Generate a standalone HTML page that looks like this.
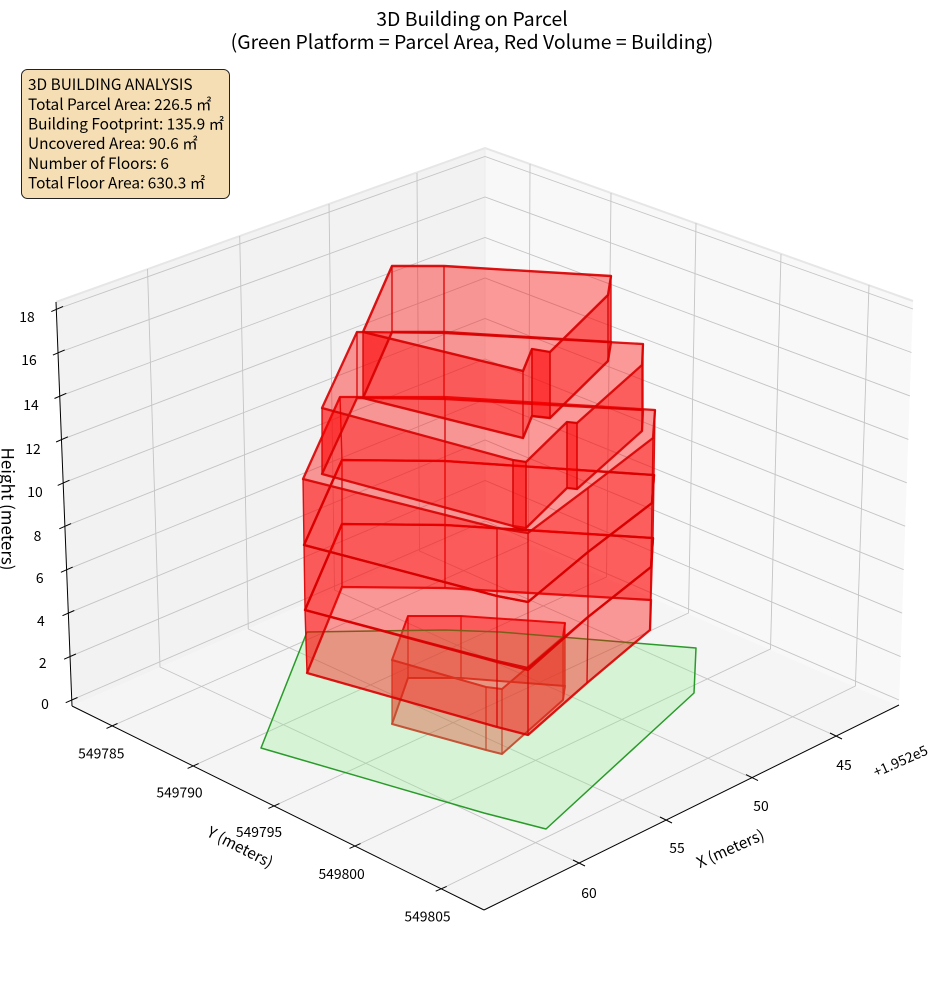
<!DOCTYPE html>
<html><head><meta charset="utf-8"><style>
html,body{margin:0;padding:0;background:#fff;}
svg{display:block;}
text{font-family:"Liberation Sans","Noto Sans CJK JP",sans-serif;fill:#000;}
.t{font-family:"Noto Sans CJK JP","Liberation Sans",sans-serif;}
</style></head><body>
<svg width="944" height="992" viewBox="0 0 944 992" xmlns="http://www.w3.org/2000/svg">
<rect width="944" height="992" fill="#fff"/>
<!-- panes -->
<polygon points="56,302 72,706 485,525 485,148" fill="#f2f2f2"/>
<polygon points="485,148 485,525 899,706 913,301" fill="#f8f8f8"/>
<polygon points="72,706 485,525 899,706 484,910" fill="#f5f5f5"/>
<polyline points="56,302 485,148 913,301" fill="none" stroke="#e6e6e6" stroke-width="2"/>
<line x1="485" y1="148" x2="485" y2="525" stroke="#ececec" stroke-width="1"/>
<!-- grid -->
<g stroke="#c4c4c4" stroke-width="0.9" fill="none">
<polyline points="71.6,700 485,521 899,700"/>
<polyline points="70,656.6 485,480.5 900.6,656.6"/>
<polyline points="68.4,613.1 485,440 902.1,613.1"/>
<polyline points="66.8,569.7 485,399.5 903.7,569.7"/>
<polyline points="65.2,526.2 485,359 905.2,526.2"/>
<polyline points="63.6,482.8 485,318.5 906.8,482.8"/>
<polyline points="62,439.4 485,278 908.4,439.4"/>
<polyline points="60.4,395.9 485,237.5 909.9,395.9"/>
<polyline points="58.8,352.5 485,197 911.5,352.5"/>
<polyline points="57.2,309 485,156.5 913,309"/>
<polyline points="147.5,269 160,667 579,863"/>
<polyline points="239.7,236 248.3,629 666,820"/>
<polyline points="329,204 334.5,590 752,778"/>
<polyline points="417,173 419.5,551 836,736"/>
<polyline points="530,164 528.4,542 112,726"/>
<polyline points="611,193 606.5,577 193,766"/>
<polyline points="696,223 688.5,613 274,806"/>
<polyline points="781,254 770.5,649 355,846"/>
<polyline points="869,285 855.4,686 441,889"/>
</g>
<!-- axes -->
<g stroke="#000" stroke-width="1" fill="none">
<line x1="56" y1="302" x2="72" y2="706"/>
<line x1="72" y1="706" x2="484" y2="910"/>
<line x1="484" y1="910" x2="899" y2="705"/>
<line x1="77.5" y1="697.5" x2="65.7" y2="702.7"/>
<line x1="75.9" y1="654.0" x2="64.1" y2="659.2"/>
<line x1="74.3" y1="610.5" x2="62.5" y2="615.7"/>
<line x1="72.7" y1="567.1" x2="60.9" y2="572.3"/>
<line x1="71.1" y1="523.6" x2="59.3" y2="528.8"/>
<line x1="69.5" y1="480.2" x2="57.7" y2="485.4"/>
<line x1="67.9" y1="436.8" x2="56.1" y2="442.0"/>
<line x1="66.3" y1="393.3" x2="54.5" y2="398.5"/>
<line x1="64.7" y1="349.9" x2="52.9" y2="355.1"/>
<line x1="63.1" y1="306.4" x2="51.3" y2="311.6"/>
<line x1="830" y1="733" x2="842" y2="739"/>
<line x1="746" y1="774.6" x2="758" y2="780.6"/>
<line x1="660" y1="817" x2="672" y2="823"/>
<line x1="573" y1="860" x2="585" y2="866"/>
<line x1="106.5" y1="728.4" x2="117.5" y2="723.5"/>
<line x1="187.6" y1="768.4" x2="198.6" y2="763.6"/>
<line x1="268.4" y1="808.4" x2="279.4" y2="803.6"/>
<line x1="349.5" y1="848.4" x2="360.5" y2="843.6"/>
<line x1="435.7" y1="891.2" x2="446.7" y2="886.4"/>
</g>
<!-- tick labels -->
<g class="t" font-size="13.9" text-anchor="middle">
<text class="t" x="45" y="709">0</text>
<text class="t" x="42.7" y="668">2</text>
<text class="t" x="40.8" y="626">4</text>
<text class="t" x="39.7" y="583">6</text>
<text class="t" x="37.5" y="541">8</text>
<text class="t" x="35" y="497">10</text>
<text class="t" x="33" y="454">12</text>
<text class="t" x="31" y="410">14</text>
<text class="t" x="29" y="365">16</text>
<text class="t" x="27" y="322">18</text>
<text class="t" x="844" y="770">45</text>
<text class="t" x="761" y="811">50</text>
<text class="t" x="677" y="853">55</text>
<text class="t" x="589" y="898">60</text>
<text class="t" x="101.3" y="758.5">549785</text>
<text class="t" x="179.5" y="797.5">549790</text>
<text class="t" x="259" y="837">549795</text>
<text class="t" x="341.6" y="879">549800</text>
<text class="t" x="427.5" y="921.5">549805</text>
</g>
<text class="t" font-size="13.9" text-anchor="middle" transform="translate(900.5,761) rotate(-24)" dy="5">+1.952e5</text>
<!-- axis labels -->
<text class="t" font-size="17" text-anchor="middle" transform="translate(1.5,509) rotate(90)">Height (meters)</text>
<text class="t" font-size="15.3" text-anchor="middle" transform="translate(240,847.5) rotate(27)" dy="5">Y (meters)</text>
<text class="t" font-size="15.3" text-anchor="middle" transform="translate(730.5,849) rotate(-24)" dy="5">X (meters)</text>

<!-- floor 1 walls -->
<g fill="rgba(255,0,0,0.39)" stroke="none">
<polygon points="408,616 461,616 461,678 408,678"/>
<polygon points="461,616 565,623 565,686 461,678"/>
<polygon points="565,623 563,637 563,700 565,686"/>
<polygon points="563,637 502,689 502,754 563,700"/>
<polygon points="502,689 486,687 486,750 502,754"/>
<polygon points="486,687 392,660 392,724 486,750"/>
<polygon points="392,660 408,616 408,678 392,724"/>
</g>
<g fill="none" stroke="#d80000" stroke-opacity="0.9" stroke-linejoin="round">
<path stroke-width="2" d="M408,616 L461,616 L565,623 L563,637 L502,689 L486,687 L392,660 Z M408,678 L461,678 L565,686 L563,700 L502,754 L486,750 L392,724 Z"/>
<path stroke-width="1.3" d="M408,616V678 M461,616V678 M565,623V686 M563,637V700 M502,689V754 M486,687V750 M392,660V724"/>
</g>

<!-- parcel -->
<polygon points="307,632 445,630 500,632 696,648 694,693 546,829 484,813 261,748" fill="rgba(144,238,144,0.3)" stroke="#2a9a2a" stroke-width="1.5" stroke-linejoin="round"/>

<!-- floor 2 walls -->
<g fill="rgba(255,0,0,0.39)" stroke="none">
<polygon points="342,524 445,525 445,588 342,587"/>
<polygon points="445,525 653,538 651,600 445,588"/>
<polygon points="653,538 651,567 650,630 651,600"/>
<polygon points="651,567 588,617 587,683 650,630"/>
<polygon points="588,617 528,670 528,735 587,683"/>
<polygon points="528,670 497,662 497,727 528,735"/>
<polygon points="497,662 305,610 307,673 497,727"/>
<polygon points="305,610 342,524 342,587 307,673"/>
</g>
<g fill="none" stroke="#d80000" stroke-opacity="0.9" stroke-linejoin="round">
<path stroke-width="2.3" d="M342,524 L445,525 L653,538 L651,567 L588,617 L528,670 L497,662 L305,610 Z M342,587 L445,588 L651,600 L650,630 L587,683 L528,735 L497,727 L307,673 Z"/>
<path stroke-width="1.4" d="M342,524 L342,587 M445,525 L445,588 M653,538 L651,600 M651,567 L650,630 M588,617 L587,683 M528,670 L528,735 M497,662 L497,727 M305,610 L307,673"/>
</g>

<!-- floor 3 walls -->
<g fill="rgba(255,0,0,0.39)" stroke="none">
<polygon points="342,460 445,461 445,525 342,524"/>
<polygon points="445,461 654,475 653,538 445,525"/>
<polygon points="654,475 652,503 651,567 653,538"/>
<polygon points="652,503 588,552 588,617 651,567"/>
<polygon points="588,552 528,602 528,668 588,617"/>
<polygon points="528,602 497,596 497,661 528,668"/>
<polygon points="497,596 304,545 305,610 497,661"/>
<polygon points="304,545 342,460 342,524 305,610"/>
</g>
<g fill="none" stroke="#d80000" stroke-opacity="0.9" stroke-linejoin="round">
<path stroke-width="2.3" d="M342,460 L445,461 L654,475 L652,503 L588,552 L528,602 L497,596 L304,545 Z M342,524 L445,525 L653,538 L651,567 L588,617 L528,668 L497,661 L305,610 Z"/>
<path stroke-width="1.4" d="M342,460 L342,524 M445,461 L445,525 M654,475 L653,538 M652,503 L651,567 M588,552 L588,617 M528,602 L528,668 M497,596 L497,661 M304,545 L305,610"/>
</g>

<!-- floor 4 walls -->
<g fill="rgba(255,0,0,0.39)" stroke="none">
<polygon points="340,397 445,397 445,461 342,460"/>
<polygon points="445,397 655,410 654,475 445,461"/>
<polygon points="655,410 653,438 652,503 654,475"/>
<polygon points="653,438 588,488 588,552 652,503"/>
<polygon points="588,488 528,533 528,602 588,552"/>
<polygon points="528,533 497,528 497,596 528,602"/>
<polygon points="497,528 303,479 304,545 497,596"/>
<polygon points="303,479 340,397 342,460 304,545"/>
</g>
<g fill="none" stroke="#d80000" stroke-opacity="0.9" stroke-linejoin="round">
<path stroke-width="2.3" d="M340,397 L445,397 L655,410 L653,438 L588,488 L528,533 L497,528 L303,479 Z M342,460 L445,461 L654,475 L652,503 L588,552 L528,602 L497,596 L304,545 Z"/>
<path stroke-width="1.4" d="M340,397 L342,460 M445,397 L445,461 M655,410 L654,475 M653,438 L652,503 M588,488 L588,552 M528,533 L528,602 M497,528 L497,596 M303,479 L304,545"/>
</g>

<!-- floor 5 walls -->
<g fill="rgba(255,0,0,0.39)" stroke="none">
<polygon points="357,332 444,333 444,399 357,398"/>
<polygon points="444,333 643,344 643,410 444,399"/>
<polygon points="643,344 642,365 642,431 643,410"/>
<polygon points="642,365 577,423 577,489 642,431"/>
<polygon points="577,423 567,422 567,488 577,489"/>
<polygon points="567,422 526,462 526,528 567,488"/>
<polygon points="526,462 513,460 513,526 526,528"/>
<polygon points="513,460 322,408 322,474 513,526"/>
<polygon points="322,408 357,332 357,398 322,474"/>
</g>
<g fill="none" stroke="#d80000" stroke-opacity="0.9" stroke-linejoin="round">
<path stroke-width="2.3" d="M357,332 L444,333 L643,344 L642,365 L577,423 L567,422 L526,462 L513,460 L322,408 Z M357,398 L444,399 L643,410 L642,431 L577,489 L567,488 L526,528 L513,526 L322,474 Z"/>
<path stroke-width="1.4" d="M357,332 V398 M444,333 V399 M643,344 V410 M642,365 V431 M577,423 V489 M567,422 V488 M526,462 V528 M513,460 V526 M322,408 V474"/>
</g>

<!-- floor 6 walls -->
<g fill="rgba(255,0,0,0.39)" stroke="none">
<polygon points="392,266 444,266 444,332 392,332"/>
<polygon points="444,266 611,276 611,342 444,332"/>
<polygon points="611,276 608,295 608,361 611,342"/>
<polygon points="608,295 550,352 550,418 608,361"/>
<polygon points="550,352 532,349 532,416 550,418"/>
<polygon points="532,349 523,371 523,438 532,416"/>
<polygon points="523,371 363,332 363,398 523,438"/>
<polygon points="363,332 392,266 392,332 363,398"/>
</g>
<g fill="none" stroke="#d80000" stroke-opacity="0.92" stroke-linejoin="round">
<path stroke-width="2.4" d="M392,266 L444,266 L611,276 L608,295 L550,352 L532,349 L523,371 L363,332 Z M392,332 L444,332 L611,342 L608,361 L550,418 L532,416 L523,438 L363,398 Z"/>
<path stroke-width="1.4" d="M392,266 V332 M444,266 V332 M611,276 V342 M608,295 V361 M550,352 V418 M532,349 V416 M523,371 V438 M363,332 V398"/>
</g>
<!-- bright strips -->
<g fill="rgba(255,0,0,0.4)" stroke="#d80000" stroke-width="1.2">
<polygon points="532,349 550,352 550,418 532,416"/>
<polygon points="567,422 577,423 577,489 567,488"/>
<polygon points="513,460 526,462 526,530 513,527"/>
</g>

<!-- title -->
<text class="t" x="472" y="26" font-size="19.4" text-anchor="middle">3D Building on Parcel</text>
<text class="t" x="472" y="49" font-size="19.4" text-anchor="middle">(Green Platform = Parcel Area, Red Volume = Building)</text>

<!-- info box -->
<rect x="21.5" y="69.5" width="208" height="129" rx="6" ry="6" fill="#f5deb3" stroke="#222" stroke-width="1"/>
<g class="t" font-size="15.4">
<text class="t" x="28" y="90">3D BUILDING ANALYSIS</text>
<text class="t" x="28" y="110">Total Parcel Area: 226.5 ㎡</text>
<text class="t" x="28" y="129.5">Building Footprint: 135.9 ㎡</text>
<text class="t" x="28" y="149">Uncovered Area: 90.6 ㎡</text>
<text class="t" x="28" y="169">Number of Floors: 6</text>
<text class="t" x="28" y="188.5">Total Floor Area: 630.3 ㎡</text>
</g>
</svg>
</body></html>
